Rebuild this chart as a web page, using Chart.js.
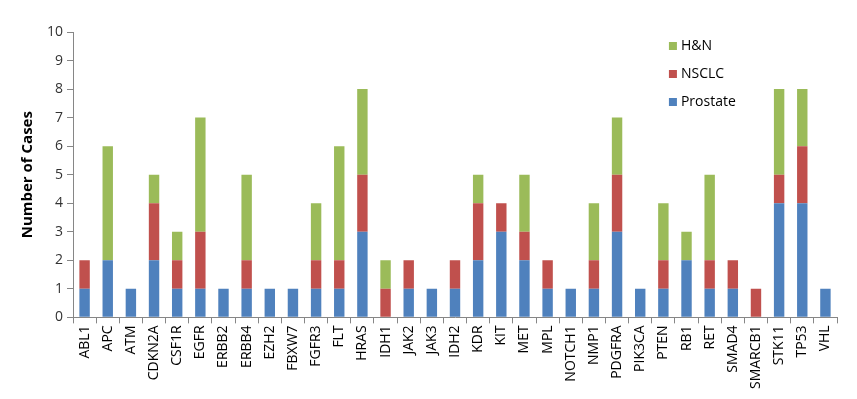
<!DOCTYPE html>
<html>
<head>
<meta charset="utf-8">
<script src="https://cdn.jsdelivr.net/npm/chart.js@4/dist/chart.umd.min.js"></script>
<style>
  body { margin: 0; background: #fff; }
</style>
</head>
<body>
<canvas id="myChart" width="857" height="399"></canvas>
<script>
// genes along the x axis
const genes = ["ABL1", "APC", "ATM", "CDKN2A", "CSF1R", "EGFR", "ERBB2", "ERBB4", "EZH2", "FBXW7",
    "FGFR3", "FLT", "HRAS", "IDH1", "JAK2", "JAK3", "IDH2", "KDR", "KIT", "MET", "MPL", "NOTCH1",
    "NMP1", "PDGFRA", "PIK3CA", "PTEN", "RB1", "RET", "SMAD4", "SMARCB1", "STK11", "TP53", "VHL"];

const prostate = [1, 2, 1, 2, 1, 1, 1, 1, 1, 1, 1, 1, 3, 0, 1, 1, 1, 2, 3, 2, 1, 1, 1, 3, 1, 1, 2, 1, 1, 0, 4, 4, 1];
const nsclc    = [1, 0, 0, 2, 1, 2, 0, 1, 0, 0, 1, 1, 2, 1, 1, 0, 1, 2, 1, 1, 1, 0, 1, 2, 0, 1, 0, 1, 1, 1, 1, 2, 0];
const hn       = [0, 4, 0, 1, 1, 4, 0, 3, 0, 0, 2, 4, 3, 1, 0, 0, 0, 1, 0, 2, 0, 0, 2, 2, 0, 2, 1, 3, 0, 0, 3, 2, 0];

const yTicks = [0, 1, 2, 3, 4, 5, 6, 7, 8, 9, 10];

const fontFamily = "'Open Sans', Lato, sans-serif";

// legend drawn inside the plot, top right, reversed order like the original
const insideLegend = {
    id: 'insideLegend',
    afterDraw(chart) {
        const ctx = chart.ctx;
        const area = chart.chartArea;
        const x = area.left + (area.right - area.left) * 0.78;
        let y = area.top + 14;
        ctx.save();
        ctx.font = "14px " + fontFamily;
        ctx.textBaseline = 'middle';
        for (let i = chart.data.datasets.length - 1; i >= 0; i--) {
            let ds = chart.data.datasets[i];
            ctx.fillStyle = ds.backgroundColor;
            ctx.fillRect(x, y - 4, 8, 8);
            ctx.fillStyle = '#000';
            ctx.fillText(ds.label, x + 12, y);
            y += 28;
        }
        ctx.restore();
    }
};

const config = {
    type: 'bar',
    data: {
        labels: genes,
        datasets: [
            { label: 'Prostate', data: prostate, backgroundColor: '#4F81BD' },
            { label: 'NSCLC', data: nsclc, backgroundColor: '#C0504D' },
            { label: 'H&N', data: hn, backgroundColor: '#9BBB59' }
        ]
    },
    options: {
        responsive: false,
        animation: false,
        layout: { padding: { top: 32, right: 20, left: 19, bottom: 8 } },
        datasets: { bar: { barPercentage: 0.45, categoryPercentage: 1.0 } },
        plugins: {
            legend: { display: false },
            tooltip: { enabled: false }
        },
        scales: {
            x: {
                stacked: true,
                grid: { offset: true, drawOnChartArea: false, color: '#868686', tickLength: 6 },
                border: { color: '#868686' },
                ticks: {
                    color: '#000',
                    font: { family: fontFamily, size: 14 },
                    maxRotation: 90, minRotation: 90, autoSkip: false, padding: 2
                }
            },
            y: {
                stacked: true,
                min: 0, max: 10,
                afterBuildTicks(axis) { axis.ticks = yTicks.map(v => ({ value: v })); },
                grid: { drawOnChartArea: false, color: '#868686', tickLength: 6 },
                border: { color: '#868686' },
                ticks: { color: '#333', font: { family: fontFamily, size: 14 }, padding: 4 },
                title: {
                    display: true,
                    text: 'Number of Cases',
                    color: '#000',
                    padding: { top: 0, bottom: 6 },
                    font: { family: fontFamily, size: 15, weight: 'bold' }
                }
            }
        }
    },
    plugins: [insideLegend]
};

new Chart(document.getElementById('myChart'), config);
</script>
</body>
</html>
